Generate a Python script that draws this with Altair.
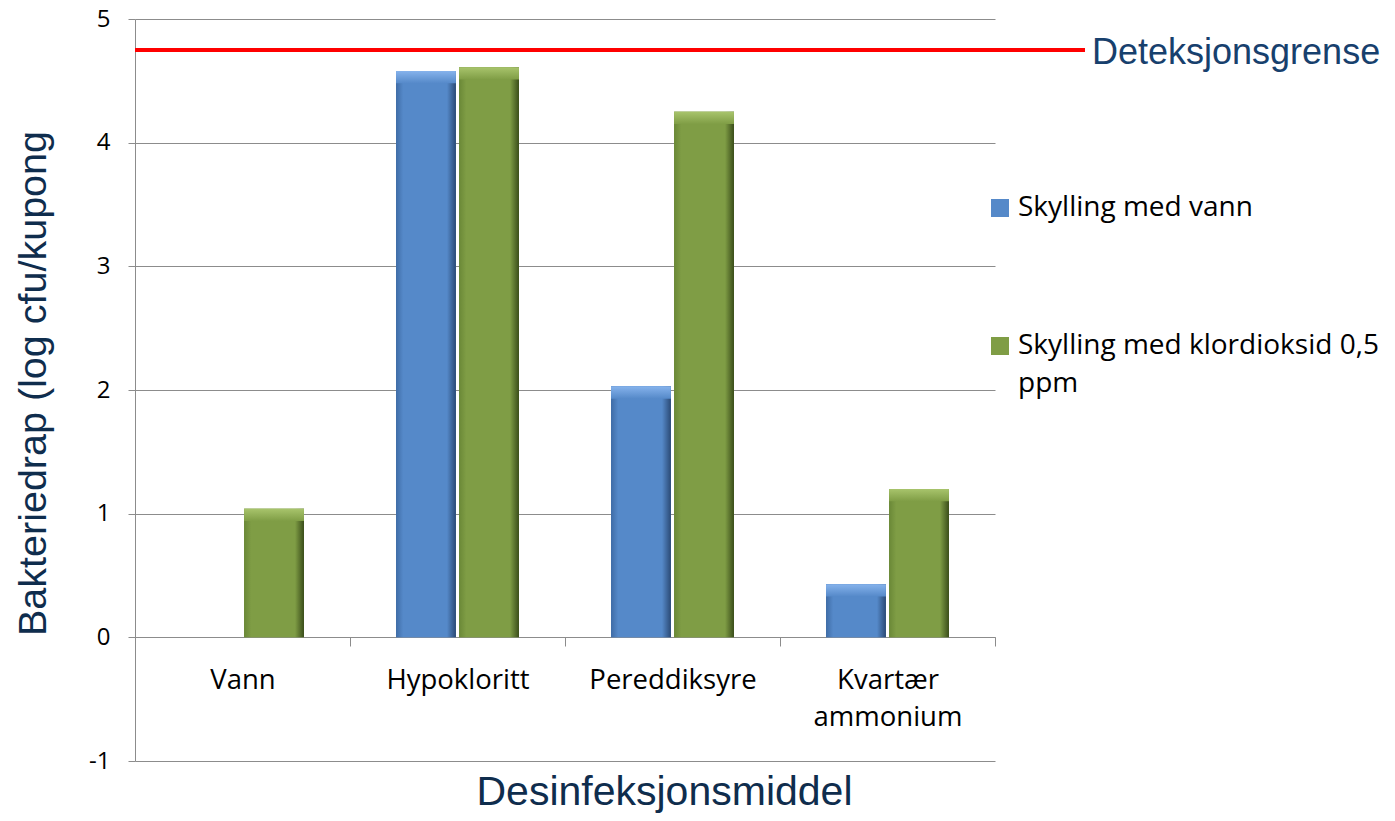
import altair as alt
import pandas as pd

categories = ["Vann", "Hypokloritt", "Pereddiksyre", "Kvartær ammonium"]
series = ["Skylling med vann", "Skylling med klordioksid 0,5 ppm"]
vann_values = [0.0, 4.58, 2.03, 0.43]
klor_values = [1.04, 4.61, 4.25, 1.20]
detection_limit = [4.75]
limit_label = ["Deteksjonsgrense"]
y_ticks = [-1, 0, 1, 2, 3, 4, 5]

rows = []
for c, v in zip(categories, vann_values):
    rows.append({"cat": c, "serie": series[0], "val": v})
for c, v in zip(categories, klor_values):
    rows.append({"cat": c, "serie": series[1], "val": v})
df = pd.DataFrame(rows)
limit_df = pd.DataFrame({"y": detection_limit, "label": limit_label})

GRID = "#8c8c8c"
NAVY = "#0f2d4d"
BLUE = "#5589c9"
GREEN = "#7f9d45"

x_enc = alt.X(
    "cat:N", sort=categories,
    scale=alt.Scale(paddingInner=0, paddingOuter=0),
    axis=alt.Axis(
        orient="bottom", offset=-124, tickBand="extent", tickSize=9,
        domainColor=GRID, tickColor=GRID, grid=False, labelAngle=0,
        labelFont="Open Sans", labelFontSize=27.5, labelColor="black",
        labelPadding=20, labelLineHeight=37,
        labelExpr="datum.label == 'Kvartær ammonium' ? ['Kvartær', 'ammonium'] : datum.label",
        title="Desinfeksjonsmiddel", titleFont="Liberation Sans", titleFontSize=41,
        titleFontWeight="normal", titleColor=NAVY, titleX=529, titleY=167,
        titleAlign="center", titleBaseline="alphabetic",
    ),
)
xo_enc = alt.XOffset("serie:N", sort=series,
                     scale=alt.Scale(paddingInner=0.05, paddingOuter=0.73))
y_enc = alt.Y(
    "val:Q",
    scale=alt.Scale(domain=[-1, 5], nice=False),
    axis=alt.Axis(
        values=y_ticks, grid=True, gridColor=GRID, domainColor=GRID,
        tickColor=GRID, tickSize=7, labelFont="Open Sans", labelFontSize=24,
        labelColor="black", labelPadding=18, labelExpr="'' + datum.value",
        title="Bakteriedrap (log cfu/kupong", titleFont="Liberation Sans",
        titleFontSize=39.5, titleFontWeight="normal", titleColor=NAVY,
        titleAngle=270, titleX=-90, titleY=364, titleAlign="center",
        titleBaseline="alphabetic",
    ),
)

base = alt.Chart(df).mark_bar().encode(
    x=x_enc, xOffset=xo_enc, y=y_enc,
    color=alt.Color(
        "serie:N", sort=series,
        scale=alt.Scale(domain=series, range=[BLUE, GREEN]),
        legend=alt.Legend(
            orient="none", legendX=851, legendY=175, title=None,
            symbolType="square", symbolSize=324, symbolStrokeWidth=0,
            labelFont="Open Sans", labelFontSize=28, labelColor="black",
            labelOffset=4, rowPadding=110, labelLimit=400,
            labelExpr="datum.label == 'Skylling med klordioksid 0,5 ppm' ? ['Skylling med klordioksid 0,5', 'ppm'] : datum.label",
        ),
    ),
)

def hgrad(c_edge_l, c_mid, c_edge_r):
    return alt.Gradient(
        gradient="linear", x1=0, x2=1, y1=0, y2=0,
        stops=[
            alt.GradientStop(offset=0, color=c_edge_l),
            alt.GradientStop(offset=0.12, color=c_mid),
            alt.GradientStop(offset=0.85, color=c_mid),
            alt.GradientStop(offset=1, color=c_edge_r),
        ],
    )

def vgrad(c_top, c_bot):
    return alt.Gradient(
        gradient="linear", x1=0, x2=0, y1=0, y2=1,
        stops=[
            alt.GradientStop(offset=0, color=c_top),
            alt.GradientStop(offset=1, color=c_bot),
        ],
    )

xs = dict(x=alt.X("cat:N", sort=categories), xOffset=alt.XOffset("serie:N", sort=series))

blue_ov = alt.Chart(df).transform_filter(
    alt.datum.serie == series[0]
).mark_bar(fill=hgrad("#3f6ca6", BLUE, "#2b4a75")).encode(y="val:Q", **xs)
green_ov = alt.Chart(df).transform_filter(
    alt.datum.serie == series[1]
).mark_bar(fill=hgrad("#6a8837", GREEN, "#3a4d1a")).encode(y="val:Q", **xs)

blue_top = alt.Chart(df).transform_filter(
    (alt.datum.serie == series[0]) & (alt.datum.val > 0)
).transform_calculate(top2="datum.val - 0.1").mark_bar(
    fill=vgrad("#86b3ec", BLUE), xOffset=3, x2Offset=-3
).encode(y="val:Q", y2="top2:Q", **xs)
green_top = alt.Chart(df).transform_filter(
    (alt.datum.serie == series[1]) & (alt.datum.val > 0)
).transform_calculate(top2="datum.val - 0.1").mark_bar(
    fill=vgrad("#a8c46c", GREEN), xOffset=3, x2Offset=-3
).encode(y="val:Q", y2="top2:Q", **xs)

rule = alt.Chart(limit_df).mark_rule(color="#ff0000", strokeWidth=4).encode(
    y="y:Q", x=alt.value(0), x2=alt.value(950)
)
label = alt.Chart(limit_df).mark_text(
    align="left", baseline="middle", font="Liberation Sans", fontSize=36,
    color="#17406d", dy=3
).encode(y="y:Q", x=alt.value(957), text="label:N")

chart = alt.layer(base, blue_ov, green_ov, blue_top, green_top, rule, label).properties(
    width=860, height=742,
    autosize=alt.AutoSizeParams(type="none"),
    padding={"left": 127, "top": 11, "right": 392, "bottom": 52},
).configure(style={"guide-label": {"lineHeight": 38}}).configure_view(stroke=None)

chart.save("out.html", embed_options={"renderer": "svg", "actions": False})
